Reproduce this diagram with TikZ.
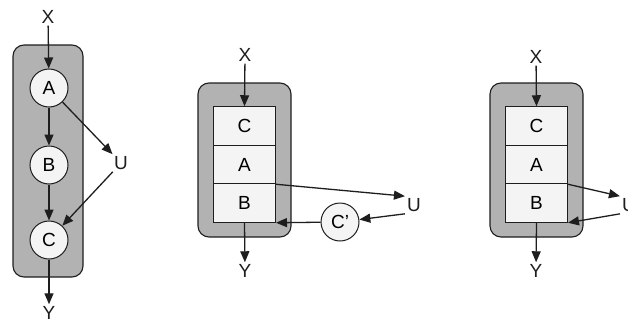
\documentclass[tikz,border=0pt]{standalone}
\usepackage{fontspec}
\setmainfont{Liberation Sans}
\usetikzlibrary{arrows.meta}
\definecolor{slotgray}{RGB}{178,178,178}
\definecolor{cellwhite}{RGB}{244,244,244}
\definecolor{inkdark}{RGB}{30,30,30}

\begin{document}
\begin{tikzpicture}[x=1pt,y=-1pt,
  font=\fontsize{19}{22}\selectfont,
  frame/.style={draw=inkdark,fill=slotgray,line width=1.1pt,rounded corners=11pt},
  opnode/.style={circle,draw=inkdark,fill=cellwhite,line width=1pt,minimum size=38pt,inner sep=0pt},
  cell/.style={rectangle,draw=inkdark,fill=cellwhite,line width=1pt,minimum width=62pt,minimum height=38.5pt,inner sep=0pt},
  lbl/.style={inner sep=2pt,text=inkdark},
  flow/.style={-{Triangle[length=11pt,width=9pt]},line width=1.3pt,draw=inkdark}]
\useasboundingbox (0,0) rectangle (628,324);
% left: chain A, B, C
\draw[frame] (13,45) rectangle (83,277);
\node[lbl] (X1) at (48,17) {X};
\node[opnode] (A1) at (49,88) {A};
\node[opnode] (B1) at (49,165) {B};
\node[opnode] (C1) at (49,240) {C};
\node[lbl] (U1) at (121,163) {U};
\node[lbl] (Y1) at (49,313) {Y};
\draw[flow] (X1) -- (A1);
\draw[flow] (A1) -- (B1);
\draw[flow] (B1) -- (C1);
\draw[flow] (C1) -- (Y1);
\draw[flow] (A1) -- (U1);
\draw[flow] (U1) -- (C1);
% middle: stack with C'
\draw[frame] (198,83) rectangle (291,237);
\node[lbl] (X2) at (245,55) {X};
\node[cell] (C2) at (244.5,126) {C};
\node[cell] (A2) at (244.5,164.5) {A};
\node[cell] (B2) at (244.5,203) {B};
\node[opnode] (Cp2) at (340,222) {C’};
\node[lbl] (U2) at (414,205) {U};
\node[lbl] (Y2) at (245,271) {Y};
\draw[flow] (X2) -- (C2.north);
\draw[flow] (B2.south) -- (Y2);
\draw[flow] (A2.south east) -- (U2.north west);
\draw[flow] (U2.south west) -- (Cp2);
\draw[flow] (Cp2) -- (B2.south east);
% right: stack, U cut off
\draw[frame] (490,83) rectangle (583,237);
\node[lbl] (X3) at (536,57) {X};
\node[cell] (C3) at (536.5,126) {C};
\node[cell] (A3) at (536.5,164.5) {A};
\node[cell] (B3) at (536.5,203) {B};
\node[lbl] (U3) at (629,205) {U};
\node[lbl] (Y3) at (536,271) {Y};
\draw[flow] (X3) -- (C3.north);
\draw[flow] (B3.south) -- (Y3);
\draw[flow] (A3.south east) -- (U3.north west);
\draw[flow] (U3.south west) -- (B3.south east);
\end{tikzpicture}
\end{document}
